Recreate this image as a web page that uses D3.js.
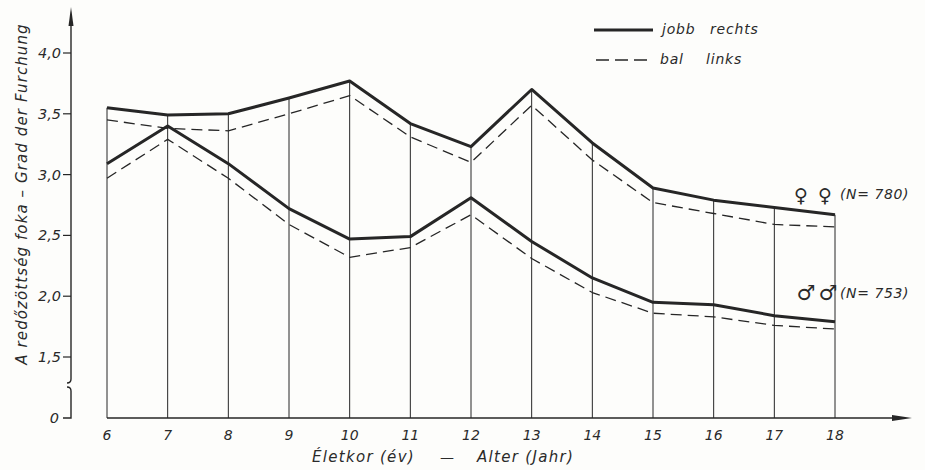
<!doctype html>
<html lang="hu">
<head>
<meta charset="UTF-8">
<title>Redőzöttség foka</title>
<script src="https://d3js.org/d3.v7.min.js"></script>
<style>
  body { margin: 0; background: #fdfdfb; }
  svg { display: block; }
  text { font-family: "DejaVu Sans", "Liberation Sans", sans-serif; font-style: italic; fill: #2a2a2a; }
</style>
</head>
<body>
<svg id="chart" width="925" height="470"></svg>
<script>
// ---- data ---- //
const ages = [6, 7, 8, 9, 10, 11, 12, 13, 14, 15, 16, 17, 18];
// girls (N = 780)
const femaleRight = [3.55, 3.49, 3.50, 3.63, 3.77, 3.42, 3.23, 3.70, 3.26, 2.89, 2.79, 2.73, 2.67];
const femaleLeft  = [3.45, 3.38, 3.36, 3.50, 3.65, 3.31, 3.10, 3.57, 3.12, 2.77, 2.68, 2.59, 2.57];
// boys (N = 753)
const maleRight = [3.09, 3.40, 3.09, 2.72, 2.47, 2.49, 2.81, 2.45, 2.15, 1.95, 1.93, 1.84, 1.79];
const maleLeft  = [2.97, 3.29, 2.97, 2.59, 2.32, 2.40, 2.67, 2.31, 2.03, 1.86, 1.83, 1.76, 1.73];

const yTicks = [4.0, 3.5, 3.0, 2.5, 2.0, 1.5];
const yTickLabels = ["4,0", "3,5", "3,0", "2,5", "2,0", "1,5"];

const INK = "#262626";

const svg = d3.select("#chart");

// x: age, y: broken axis (0 below the break, 1.5..4.0 above)
const x = d3.scaleLinear().domain([6, 18]).range([107, 835]);
const y = d3.scaleLinear().domain([0, 1.5, 4.0]).range([418, 357, 53]);
const axisX = 71;

// vertical lines from the base up to the top curve
svg.selectAll(".vline").data(ages).enter().append("line")
    .attr("class", "vline")
    .attr("x1", d => x(d)).attr("x2", d => x(d))
    .attr("y1", y(0)).attr("y2", (d, i) => y(femaleRight[i]))
    .style("stroke", INK).style("stroke-width", 1);

// x axis with arrow
svg.append("line")
    .attr("x1", x(6)).attr("x2", 900)
    .attr("y1", y(0)).attr("y2", y(0))
    .style("stroke", INK).style("stroke-width", 1.6);
svg.append("path")
    .attr("d", `M912,${y(0)} L892,${y(0) - 3} L892,${y(0) + 3} Z`)
    .style("fill", INK);

// y axis: upper part with arrow, break, lower part
svg.append("line")
    .attr("x1", axisX).attr("x2", axisX)
    .attr("y1", 20).attr("y2", 379)
    .style("stroke", INK).style("stroke-width", 1.4);
svg.append("path")
    .attr("d", `M${axisX},7 L${axisX - 2.5},26 L${axisX + 2.5},26 Z`)
    .style("fill", INK);
svg.append("path")
    .attr("d", `M${axisX},379 q0,4 -4,4 M${axisX - 4},387 q4,0 4,4 L${axisX},${y(0)} L${axisX - 8},${y(0)}`)
    .style("fill", "none").style("stroke", INK).style("stroke-width", 1.4);

// y ticks
svg.selectAll(".ytick").data(yTicks).enter().append("line")
    .attr("class", "ytick")
    .attr("x1", axisX - 8).attr("x2", axisX)
    .attr("y1", d => y(d)).attr("y2", d => y(d))
    .style("stroke", INK).style("stroke-width", 1.2);
svg.selectAll(".ylabel").data(yTicks).enter().append("text")
    .attr("class", "ylabel")
    .attr("x", axisX - 10).attr("y", d => y(d)).attr("dy", "0.35em")
    .attr("text-anchor", "end").style("font-size", "14.5px")
    .text((d, i) => yTickLabels[i]);
svg.append("text")
    .attr("x", axisX - 12).attr("y", y(0)).attr("dy", "0.35em")
    .attr("text-anchor", "end").style("font-size", "14.5px")
    .text("0");

// x tick labels
svg.selectAll(".xlabel").data(ages).enter().append("text")
    .attr("class", "xlabel")
    .attr("x", d => x(d)).attr("y", 440)
    .attr("text-anchor", "middle").style("font-size", "14px")
    .text(d => d);

// axis titles
svg.append("text")
    .attr("x", 312).attr("y", 462).style("font-size", "15px").style("letter-spacing", "1.3px")
    .text("Életkor (év)");
svg.append("text")
    .attr("x", 447).attr("y", 462).attr("text-anchor", "middle").style("font-size", "14px")
    .text("—");
svg.append("text")
    .attr("x", 477).attr("y", 462).style("font-size", "15px").style("letter-spacing", "1.3px")
    .text("Alter (Jahr)");
svg.append("text")
    .attr("transform", "translate(27,194) rotate(-90)")
    .attr("text-anchor", "middle").style("font-size", "15px").style("letter-spacing", "1.1px")
    .text("A redőzöttség foka – Grad der Furchung");

// series lines
const line = d3.line().x((d, i) => x(ages[i])).y(d => y(d));
const series = [
    { values: femaleRight, dashed: false },
    { values: femaleLeft, dashed: true },
    { values: maleRight, dashed: false },
    { values: maleLeft, dashed: true }
];
svg.selectAll(".series").data(series).enter().append("path")
    .attr("class", "series")
    .attr("d", d => line(d.values))
    .style("fill", "none").style("stroke", INK)
    .style("stroke-width", d => d.dashed ? 1.3 : 3)
    .style("stroke-dasharray", d => d.dashed ? "11,6" : null)
    .style("stroke-linejoin", "round");

// legend
svg.append("line").attr("x1", 594).attr("x2", 653).attr("y1", 30).attr("y2", 30)
    .style("stroke", INK).style("stroke-width", 3);
svg.append("line").attr("x1", 596).attr("x2", 652).attr("y1", 60).attr("y2", 60)
    .style("stroke", INK).style("stroke-width", 1.3).style("stroke-dasharray", "13,6");
svg.append("text").attr("x", 662).attr("y", 34).style("font-size", "14px").style("letter-spacing", "0.8px").text("jobb");
svg.append("text").attr("x", 710).attr("y", 34).style("font-size", "14px").style("letter-spacing", "0.8px").text("rechts");
svg.append("text").attr("x", 660).attr("y", 64).style("font-size", "14px").style("letter-spacing", "0.8px").text("bal");
svg.append("text").attr("x", 706).attr("y", 64).style("font-size", "14px").style("letter-spacing", "0.8px").text("links");

// group annotations
svg.append("text").attr("x", 801).attr("y", 202).attr("text-anchor", "middle")
    .style("font-size", "19px").style("font-style", "normal").text("♀");
svg.append("text").attr("x", 825).attr("y", 202).attr("text-anchor", "middle")
    .style("font-size", "19px").style("font-style", "normal").text("♀");
svg.append("text").attr("x", 840).attr("y", 199).style("font-size", "14px").style("letter-spacing", "0.6px").text("(N= 780)");
svg.append("text").attr("x", 806).attr("y", 300).attr("text-anchor", "middle")
    .style("font-size", "21px").style("font-style", "normal").text("♂");
svg.append("text").attr("x", 828).attr("y", 300).attr("text-anchor", "middle")
    .style("font-size", "21px").style("font-style", "normal").text("♂");
svg.append("text").attr("x", 840).attr("y", 298).style("font-size", "14px").style("letter-spacing", "0.6px").text("(N= 753)");
</script>
</body>
</html>
